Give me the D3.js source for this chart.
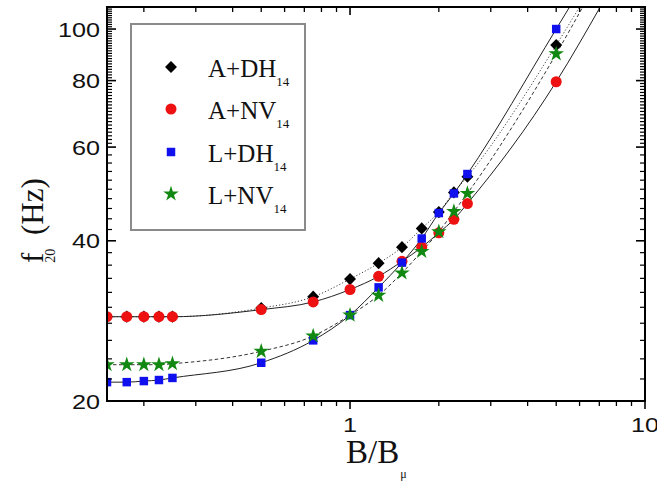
<!DOCTYPE html>
<html>
<head>
<meta charset="utf-8">
<script src="https://cdn.jsdelivr.net/npm/d3@7"></script>
<style>
  html, body { margin: 0; padding: 0; background: #fff; }
  svg { display: block; }
</style>
</head>
<body>
<svg id="chart" width="657" height="484"></svg>
<script>
// ---------- data ----------
const fieldRatio = [0.15, 0.175, 0.2, 0.225, 0.25, 0.5, 0.75, 1, 1.25, 1.5, 1.75, 2, 2.25, 2.5, 5];
const fADH = [28.8, 28.8, 28.8, 28.8, 28.8, 29.9, 31.4, 33.9, 36.3, 38.9, 42.2, 45.3, 49.3, 52.8, 93.3];
const fANV = [28.8, 28.8, 28.8, 28.8, 28.8, 29.7, 30.7, 32.4, 34.3, 36.6, 38.9, 41.4, 43.9, 47.0, 79.6];
const fLDH = [21.7, 21.7, 21.8, 21.9, 22.1, 23.6, 26.0, 29.0, 32.7, 36.4, 40.4, 45.1, 49.1, 53.4, 100];
const fLNV = [23.4, 23.4, 23.4, 23.4, 23.5, 24.8, 26.5, 29.0, 31.6, 34.8, 38.2, 41.6, 45.4, 49.1, 89.8];
// where each fitted curve leaves the top of the frame (B/Bμ, f)
const fitExitADH = [6.0, 110];
const fitExitANV = [7.05, 110];
const fitExitLDH = [5.55, 110];
const fitExitLNV = [6.15, 110];

const seriesNames = ["A+DH", "A+NV", "L+DH", "L+NV"];
const seriesSub = "14";

const xMajorTicks = [1, 10];
const xMinorTicks = [0.2, 0.3, 0.4, 0.5, 0.6, 0.7, 0.8, 0.9, 2, 3, 4, 5, 6, 7, 8, 9];
const yMajorTicks = [20, 40, 60, 80, 100];
const yMinorTicks = [22, 24, 26, 28, 30, 32, 34, 36, 38, 42, 44, 46, 48, 50, 52, 54, 56, 58,
  61, 62, 63, 64, 65, 66, 67, 68, 69, 70, 71, 72, 73, 74, 75, 76, 77, 78, 79,
  81, 82, 83, 84, 85, 86, 87, 88, 89, 90, 91, 92, 93, 94, 95, 96, 97, 98, 99,
  101, 102, 103, 104, 105, 106, 107, 108, 109];

// ---------- layout ----------
const L = 107, R = 645, T = 7, B = 401;
const svg = d3.select("#chart");
const x = d3.scaleLog().domain([0.15, 10]).range([L, R]);
const y = d3.scaleLog().domain([20, 110]).range([B, T]);

const styles = [
  { name: seriesNames[0], vals: fADH, exit: fitExitADH, color: "#000000", sym: d3.symbolDiamond, size: 48, tf: " scale(1.6,0.95)", line: "#444", dash: "1.2,2", lw: 1 },
  { name: seriesNames[1], vals: fANV, exit: fitExitANV, color: "#ee1111", sym: d3.symbolCircle, size: 95, tf: "", line: "#222", dash: null, lw: 1 },
  { name: seriesNames[2], vals: fLDH, exit: fitExitLDH, color: "#1010ee", sym: d3.symbolSquare, size: 72, tf: "", line: "#222", dash: null, lw: 1 },
  { name: seriesNames[3], vals: fLNV, exit: fitExitLNV, color: "#118811", sym: d3.symbolStar, size: 75, tf: "", line: "#333", dash: "3.5,2.5", lw: 1 }
];

// clip
svg.append("defs").append("clipPath").attr("id", "plotclip")
  .append("rect").attr("x", L).attr("y", T).attr("width", R - L).attr("height", B - T);

const plot = svg.append("g").attr("clip-path", "url(#plotclip)");

// fitted curves
const lineGen = d3.line().x(d => x(d[0])).y(d => y(d[1])).curve(d3.curveMonotoneX);
styles.forEach(s => {
  const pts = fieldRatio.map((b, i) => [b, s.vals[i]]);
  pts.push(s.exit);
  plot.append("path")
    .attr("d", lineGen(pts))
    .attr("fill", "none")
    .attr("stroke", s.line)
    .attr("stroke-width", s.lw)
    .attr("stroke-dasharray", s.dash);
});

// markers
styles.forEach(s => {
  const sym = d3.symbol().type(s.sym).size(s.size);
  plot.append("g").selectAll("path")
    .data(fieldRatio.map((b, i) => [b, s.vals[i]]))
    .join("path")
    .attr("d", sym)
    .attr("transform", d => `translate(${x(d[0])},${y(d[1])})` + s.tf)
    .attr("fill", s.color);
});

// ---------- axes / frame ----------
const ax = svg.append("g").attr("stroke", "#000");
function tick(x1, y1, x2, y2, w) {
  ax.append("line").attr("x1", x1).attr("y1", y1).attr("x2", x2).attr("y2", y2)
    .attr("stroke-width", w);
}
xMinorTicks.forEach(v => { const px = x(v); tick(px, B, px, B + 5, 1.3); tick(px, T, px, T + 5, 1.3); });
xMajorTicks.forEach(v => { const px = x(v); tick(px, B, px, B + 8, 1.6); tick(px, T, px, T + 8, 1.6); });
yMinorTicks.forEach(v => { const py = y(v); tick(L, py, L + 5, py, 1.2); tick(R, py, R - 5, py, 1.2); });
yMajorTicks.forEach(v => { const py = y(v); tick(L, py, L + 9, py, 1.6); tick(R, py, R - 9, py, 1.6); });

svg.append("rect").attr("x", L).attr("y", T).attr("width", R - L).attr("height", B - T)
  .attr("fill", "none").attr("stroke", "#000").attr("stroke-width", 2);

// tick labels
const tickFont = "'Liberation Sans', Arial, sans-serif";
yMajorTicks.forEach(v => {
  svg.append("text")
    .attr("transform", `translate(100,${y(v) + 7.5}) scale(1.2,1)`)
    .attr("text-anchor", "end")
    .attr("font-family", tickFont).attr("font-size", 21).attr("fill", "#111")
    .text(v);
});
xMajorTicks.forEach(v => {
  svg.append("text")
    .attr("transform", `translate(${x(v)},432) scale(1.2,1)`)
    .attr("text-anchor", "middle")
    .attr("font-family", tickFont).attr("font-size", 21).attr("fill", "#111")
    .text(v);
});

// axis titles
const serif = "'Liberation Serif', 'Times New Roman', serif";
const xt = svg.append("text").attr("x", 346).attr("y", 463)
  .attr("font-family", serif).attr("font-size", 33).attr("fill", "#111");
xt.append("tspan").text("B/B");
xt.append("tspan").attr("font-size", 12).attr("dx", 1).attr("dy", 15).text("μ");

const yt = svg.append("text").attr("transform", "translate(43,263) rotate(-90)")
  .attr("font-family", serif).attr("font-size", 31).attr("fill", "#111");
yt.append("tspan").text("f");
yt.append("tspan").attr("font-size", 14).attr("dx", -10).attr("dy", 12).text("20");
yt.append("tspan").attr("x", 28).attr("y", 0).text("(Hz)");

// ---------- legend ----------
const lg = svg.append("g");
lg.append("rect").attr("x", 131).attr("y", 24).attr("width", 174).attr("height", 206)
  .attr("fill", "#fff").attr("stroke", "#8a8a8a").attr("stroke-width", 2);
const legendY = [67, 109, 152, 194];
styles.forEach((s, i) => {
  lg.append("path")
    .attr("d", d3.symbol().type(s.sym).size(s.size)())
    .attr("transform", `translate(171,${legendY[i]})` + s.tf)
    .attr("fill", s.color);
  const t = lg.append("text").attr("x", 208).attr("y", legendY[i] + 10)
    .attr("font-family", serif).attr("font-size", 25).attr("fill", "#111");
  t.append("tspan").text(s.name);
  t.append("tspan").attr("font-size", 13).attr("dy", 9).text(seriesSub);
});
</script>
</body>
</html>
